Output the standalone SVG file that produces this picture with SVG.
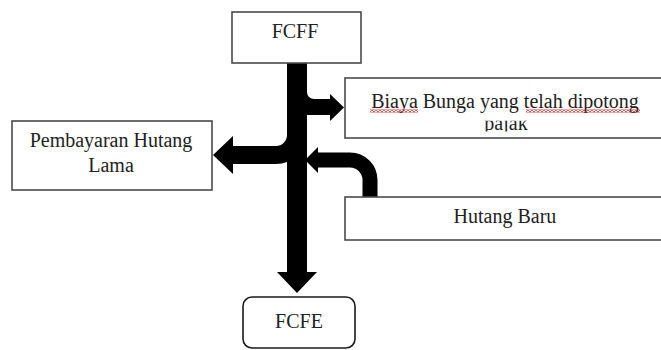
<svg xmlns="http://www.w3.org/2000/svg" width="661" height="350" viewBox="0 0 661 350">
  <style>
    .box { fill: #ffffff; stroke: #4a4a4a; stroke-width: 1.6; }
    .rbox { fill: #ffffff; stroke: #1a1a1a; stroke-width: 1.6; }
    .lbl { font-family: "Liberation Serif", "Times New Roman", serif; font-size: 20px; fill: #222222; text-anchor: middle; }
    .arrow { fill: #000000; }
    .shaft { fill: none; stroke: #000000; stroke-linejoin: round; }
    .squig { fill: url(#squig); }
  </style>
  <defs>
    <pattern id="squig" x="0" y="0" width="4" height="3" patternUnits="userSpaceOnUse">
      <path d="M0 2.5 L2 0.5 L4 2.5" fill="none" stroke="#d42020" stroke-width="1.1"/>
    </pattern>
    <clipPath id="clipLine2" clipPathUnits="userSpaceOnUse">
      <rect x="345" y="120.7" width="320" height="10.8"/>
    </clipPath>
  </defs>
  <rect width="661" height="350" fill="#ffffff"/>

  <g id="connectors">
    <!-- main stem FCFF -> FCFE -->
    <rect class="arrow" x="287" y="62" width="20" height="211"/>
    <polygon class="arrow" points="277,272 317,272 297,293"/>
    <!-- branch to Biaya Bunga -->
    <rect class="arrow" x="305" y="99" width="26" height="16"/>
    <path class="arrow" d="M307 92 A7 7 0 0 0 314 99 L307 99 Z"/>
    <polygon class="arrow" points="330,94 344,107.5 330,121"/>
    <!-- branch to Pembayaran Hutang Lama -->
    <path class="shaft" stroke-width="18" d="M296 100 L296 135 A20 20 0 0 1 276 155 L231 155"/>
    <polygon class="arrow" points="233,136 213,155 233,174"/>
    <!-- from Hutang Baru into stem -->
    <path class="shaft" stroke-width="15" d="M370 199 L370 180 A20 20 0 0 0 350 160 L316 160"/>
    <polygon class="arrow" points="318,147 305,160 318,173"/>
  </g>

  <g id="node-fcff">
    <rect class="box" x="232" y="12" width="129" height="51"/>
    <text class="lbl" x="295" y="38">FCFF</text>
  </g>

  <g id="node-biaya">
    <rect class="box" x="345" y="78" width="325" height="60"/>
    <text class="lbl" x="505" y="108">Biaya Bunga yang telah dipotong</text>
    <g clip-path="url(#clipLine2)">
      <text class="lbl" x="506" y="130">pajak</text>
    </g>
    <rect class="squig" x="370" y="109.5" width="48" height="3"/>
    <rect class="squig" x="526" y="109.5" width="114" height="3"/>
  </g>

  <g id="node-pembayaran">
    <rect class="box" x="12" y="121" width="200" height="69"/>
    <text class="lbl" x="111" y="147">Pembayaran Hutang</text>
    <text class="lbl" x="111" y="172">Lama</text>
  </g>

  <g id="node-hutang-baru">
    <rect class="box" x="345" y="197" width="325" height="43"/>
    <text class="lbl" x="505" y="223">Hutang Baru</text>
  </g>

  <g id="node-fcfe">
    <rect class="rbox" x="243" y="297" width="112" height="51" rx="9" ry="9"/>
    <text class="lbl" x="299" y="328">FCFE</text>
  </g>
</svg>
